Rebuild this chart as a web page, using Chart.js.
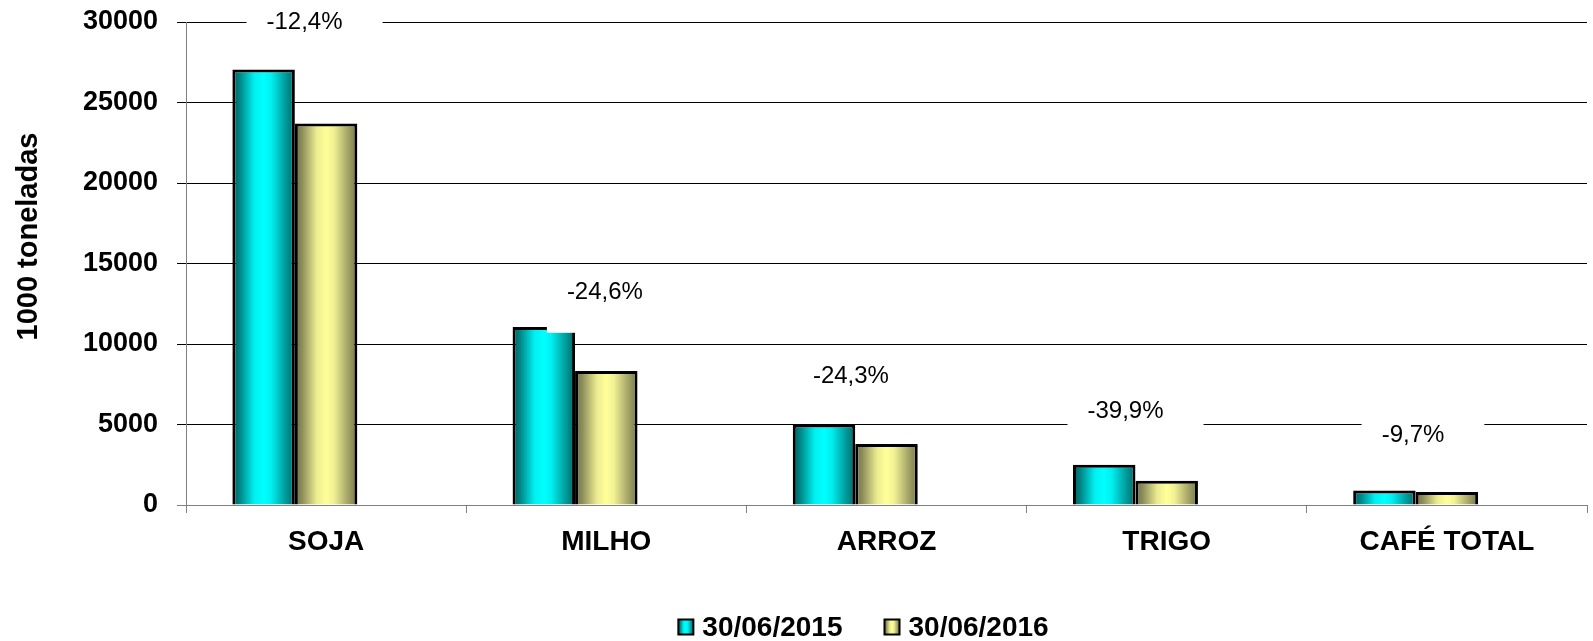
<!DOCTYPE html>
<html>
<head>
<meta charset="utf-8">
<script src="https://cdn.jsdelivr.net/npm/chart.js@4.4.0/dist/chart.umd.min.js"></script>
<style>
html,body{margin:0;padding:0;background:#fff;}
#wrap{width:1593px;height:641px;position:relative;}
</style>
</head>
<body>
<div id="wrap"><canvas id="c" width="1593" height="641"></canvas></div>
<script>
// ---- data ----
const categories = ['SOJA', 'MILHO', 'ARROZ', 'TRIGO', 'CAFÉ TOTAL'];
const seriesNames = ['30/06/2015', '30/06/2016'];
const values2015 = [27050, 11050, 5000, 2500, 900];
const values2016 = [23700, 8330, 3785, 1502, 813];
const yTickValues = [0, 5000, 10000, 15000, 20000, 25000, 30000];
const axisTitle = '1000 toneladas';
const changeLabels = ['-12,4%', '-24,6%', '-24,3%', '-39,9%', '-9,7%'];
// anchors of the change labels, in data coordinates (category index, value)
const changeAnchorCat = [-0.077, 0.995, 1.873, 2.853, 3.879];
const changeAnchorVal = [29970, 13180, 7965, 5792, 4345];

// ---- styles ----
const FONT = '"Liberation Sans", Arial, Helvetica, sans-serif';
const cyanStops = [[0, '#005f5f'], [0.12, '#008585'], [0.35, '#00f0f0'], [0.5, '#00ffff'], [0.62, '#00f0f0'], [0.88, '#009090'], [1, '#006a6a']];
const yellowStops = [[0, '#6f6f45'], [0.12, '#8f8f5c'], [0.35, '#ecec90'], [0.5, '#ffff99'], [0.62, '#f2f294'], [0.88, '#9a9a62'], [1, '#77774a']];
const seriesStops = [cyanStops, yellowStops];

function makeGradient(ctx, l, r, stops) {
  const g = ctx.createLinearGradient(l, 0, r, 0);
  stops.forEach(s => g.addColorStop(s[0], s[1]));
  return g;
}

const gradientPlugin = {
  id: 'barGradient',
  beforeDatasetsDraw(chart) {
    const ctx = chart.ctx;
    [0, 1].forEach(di => {
      const meta = chart.getDatasetMeta(di);
      meta.data.forEach(bar => {
        const p = bar.getProps(['x', 'width'], true);
        const l = p.x - p.width / 2, r = p.x + p.width / 2;
        bar.options = Object.assign({}, bar.options, {backgroundColor: makeGradient(ctx, l, r, seriesStops[di])});
      });
    });
  }
};

const annotationPlugin = {
  id: 'changeLabels',
  afterDatasetsDraw(chart) {
    const ctx = chart.ctx;
    const xs = chart.scales.x, ys = chart.scales.y;
    ctx.save();
    ctx.font = '24px ' + FONT;
    ctx.textBaseline = 'middle';
    ctx.textAlign = 'center';
    changeLabels.forEach((t, i) => {
      const cx = xs.getPixelForValue(changeAnchorCat[i]);
      const cy = ys.getPixelForValue(changeAnchorVal[i]);
      const w = ctx.measureText(t).width;
      ctx.fillStyle = '#ffffff';
      ctx.fillRect(cx - w / 2 - 20, cy - 16, w + 60, 56);
      ctx.fillStyle = '#000000';
      ctx.fillText(t, cx, cy);
    });
    ctx.restore();
  },
  afterDraw(chart) {
    const ctx = chart.ctx;
    ctx.save();
    // y axis title
    ctx.translate(29, 236.5);
    ctx.rotate(-Math.PI / 2);
    ctx.font = 'bold 29px ' + FONT;
    ctx.fillStyle = '#000';
    ctx.textAlign = 'center';
    ctx.textBaseline = 'middle';
    ctx.fillText(axisTitle, 0, 0);
    ctx.restore();

    // legend
    ctx.save();
    ctx.font = 'bold 28px ' + FONT;
    ctx.textBaseline = 'middle';
    ctx.textAlign = 'left';
    const box = 15, gap = 9, spacing = 42;
    const widths = seriesNames.map(s => ctx.measureText(s).width);
    const total = box + gap + widths[0] + spacing + box + gap + widths[1];
    let x = 863.5 - total / 2;
    const cy = 627;
    seriesNames.forEach((s, i) => {
      ctx.fillStyle = makeGradient(ctx, x, x + box, seriesStops[i]);
      ctx.fillRect(x, cy - box / 2, box, box);
      ctx.lineWidth = 2;
      ctx.strokeStyle = '#000';
      ctx.strokeRect(x, cy - box / 2, box, box);
      ctx.fillStyle = '#000';
      ctx.fillText(s, x + box + gap, cy + 1);
      x += box + gap + widths[i] + spacing;
    });
    ctx.restore();
  }
};

new Chart(document.getElementById('c'), {
  type: 'bar',
  data: {
    labels: categories,
    datasets: [
      {label: seriesNames[0], data: values2015, backgroundColor: () => '#00ffff', borderColor: '#000', borderWidth: 3},
      {label: seriesNames[1], data: values2016, backgroundColor: () => '#ffff99', borderColor: '#000', borderWidth: 3},
      {label: '', data: categories.map(() => null), backgroundColor: 'rgba(0,0,0,0)', borderWidth: 0}
    ]
  },
  options: {
    responsive: false,
    devicePixelRatio: 1,
    animation: false,
    events: [],
    layout: {padding: {left: 0, right: 6, top: 22, bottom: 0}},
    datasets: {bar: {categoryPercentage: 0.669, barPercentage: 1}},
    plugins: {legend: {display: false}, tooltip: {enabled: false}, title: {display: false}},
    scales: {
      x: {
        offset: true,
        grid: {offset: true, drawOnChartArea: false, drawTicks: true, tickLength: 8, color: '#808080', lineWidth: 1},
        border: {display: true, color: '#808080', width: 1},
        ticks: {font: {family: FONT, size: 28, weight: 'bold'}, color: '#000', padding: 12, maxRotation: 0, autoSkip: false},
        afterFit(s) { s.height = 136; }
      },
      y: {
        min: 0, max: 30000,
        afterBuildTicks(s) { s.ticks = yTickValues.map(v => ({value: v})); },
        grid: {color: c => (c.tick && c.tick.value === 0 ? '#808080' : '#000'), lineWidth: 1, tickLength: 9, drawTicks: true},
        border: {display: true, color: '#808080', width: 1},
        ticks: {font: {family: FONT, size: 27, weight: 'bold'}, color: '#000', padding: 19, callback: v => String(v)},
        afterFit(s) { s.width = 186; s.paddingTop = 0; s.paddingBottom = 0; }
      }
    }
  },
  plugins: [gradientPlugin, annotationPlugin]
});
</script>
</body>
</html>
